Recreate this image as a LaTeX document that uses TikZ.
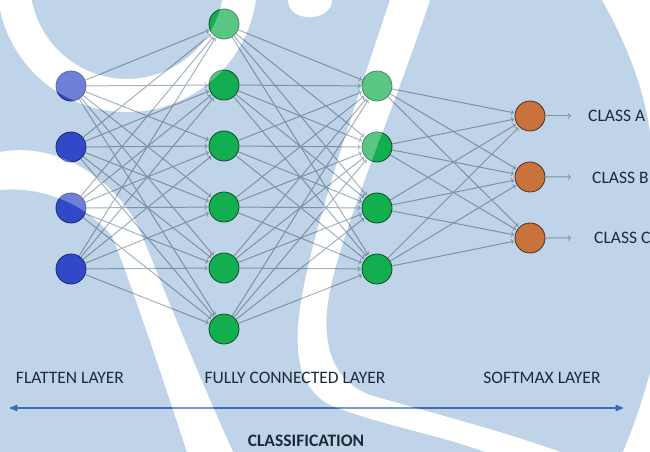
\documentclass[tikz,border=0pt]{standalone}
\usepackage{fontspec}
\setmainfont{Carlito}
\usepackage{tikz}
\usepackage{xcolor}
\usetikzlibrary{arrows,positioning}

\definecolor{bgblue}{HTML}{BFD4E9}
\definecolor{linkgray}{HTML}{7D93A3}
\definecolor{flatblue}{HTML}{3148C8}
\definecolor{fcgreen}{HTML}{12AE50}
\definecolor{smorange}{HTML}{C9723B}
\definecolor{textdark}{HTML}{1F2A38}
\definecolor{axisblue}{HTML}{3B6CB4}

% white swirls of the backdrop
\newcommand{\whitebands}[1]{%
  \fill[#1,even odd rule] (127,-18) circle[radius=130] (127,-18) circle[radius=97];
  \fill[#1] (0,152) .. controls (55,142) and (110,175) .. (138,226)
     .. controls (160,280) and (200,380) .. (233,452) -- (187,452)
     .. controls (160,370) and (130,280) .. (112,236)
     .. controls (95,215) and (55,185) .. (0,190) -- cycle;
  \fill[#1] (390,0) .. controls (360,90) and (330,180) .. (312,250)
     .. controls (295,320) and (285,380) .. (330,405)
     .. controls (380,425) and (440,435) .. (485,452) -- (560,452)
     .. controls (500,430) and (420,410) .. (370,395)
     .. controls (330,380) and (320,340) .. (330,290)
     .. controls (345,220) and (390,120) .. (430,0) -- cycle;
  \fill[#1] (602,0) .. controls (625,40) and (645,90) .. (650,133) -- (650,0) -- cycle;
  \fill[#1] (650,373) .. controls (640,410) and (630,435) .. (623,452) -- (650,452) -- cycle;
  \fill[#1] (288,0) .. controls (288,12) and (300,18) .. (312,17)
     .. controls (325,16) and (332,8) .. (332,0) -- cycle;
}

\begin{document}
\begin{tikzpicture}[x=1bp,y=-1bp,>=to,node distance=61bp,
    neuron/.style={circle,draw,minimum size=30bp,inner sep=0pt,line width=0.8bp},
    flat node/.style={neuron,fill=flatblue,draw=flatblue!55!black},
    fc node/.style={neuron,fill=fcgreen,draw=fcgreen!45!black},
    out node/.style={neuron,fill=smorange,draw=smorange!40!black},
    link/.style={->,draw=linkgray,line width=1bp,shorten >=1bp},
    axis/.style={stealth'-stealth',draw=axisblue,line width=1.6bp},
    caption/.style={font=\fontsize{17.5bp}{20bp}\selectfont,text=textdark,inner sep=0pt}]

  \useasboundingbox (0,0) rectangle (650,452);
  \clip (0,0) rectangle (650,452);
  \fill[bgblue] (0,0) rectangle (650,452);
  \whitebands{white}

  \node[flat node] (f1) at (71,86) {};
  \node[flat node] (f2) [below of=f1] {};
  \node[flat node] (f3) [below of=f2] {};
  \node[flat node] (f4) [below of=f3] {};
  \node[fc node] (c1) at (224,24) {};
  \node[fc node] (c2) [below of=c1] {};
  \node[fc node] (c3) [below of=c2] {};
  \node[fc node] (c4) [below of=c3] {};
  \node[fc node] (c5) [below of=c4] {};
  \node[fc node] (c6) [below of=c5] {};
  \node[fc node] (d1) at (377,86) {};
  \node[fc node] (d2) [below of=d1] {};
  \node[fc node] (d3) [below of=d2] {};
  \node[fc node] (d4) [below of=d3] {};
  \node[out node] (s1) at (530,116) {};
  \node[out node] (s2) [below of=s1] {};
  \node[out node] (s3) [below of=s2] {};

  \coordinate (oa) at (572,116);
  \coordinate (ob) at (572,177);
  \coordinate (oc) at (572,238);
  \coordinate (cl) at (10,408);
  \coordinate (cr) at (623,408);

  \path[link]
    (f1) edge (c1) edge (c2) edge (c3) edge (c4) edge (c5) edge (c6)
    (f2) edge (c1) edge (c2) edge (c3) edge (c4) edge (c5) edge (c6)
    (f3) edge (c1) edge (c2) edge (c3) edge (c4) edge (c5) edge (c6)
    (f4) edge (c1) edge (c2) edge (c3) edge (c4) edge (c5) edge (c6)
    (c1) edge (d1) edge (d2) edge (d3) edge (d4)
    (c2) edge (d1) edge (d2) edge (d3) edge (d4)
    (c3) edge (d1) edge (d2) edge (d3) edge (d4)
    (c4) edge (d1) edge (d2) edge (d3) edge (d4)
    (c5) edge (d1) edge (d2) edge (d3) edge (d4)
    (c6) edge (d1) edge (d2) edge (d3) edge (d4)
    (d1) edge (s1) edge (s2) edge (s3)
    (d2) edge (s1) edge (s2) edge (s3)
    (d3) edge (s1) edge (s2) edge (s3)
    (d4) edge (s1) edge (s2) edge (s3)
    (s1) edge (oa)
    (s2) edge (ob)
    (s3) edge (oc);

  \draw[axis] (cl) -- (cr);

  % lighten whatever lies under the swirls
  \whitebands{white,fill opacity=0.3}

  \node[caption,anchor=west] (ca) at (588,116) {CLASS A};
  \node[caption,anchor=west] (cb) at (592,178) {CLASS B};
  \node[caption,anchor=west] (cc) at (594,238) {CLASS C};
  \node[caption] (fltext) at (70,378) {FLATTEN LAYER};
  \node[caption] (fctext) at (295,378) {FULLY CONNECTED LAYER};
  \node[caption] (smtext) at (542,378) {SOFTMAX LAYER};
  \node[caption,font=\fontsize{17.5bp}{20bp}\selectfont\bfseries] (cltext) at (306,441) {CLASSIFICATION};
\end{tikzpicture}
\end{document}
